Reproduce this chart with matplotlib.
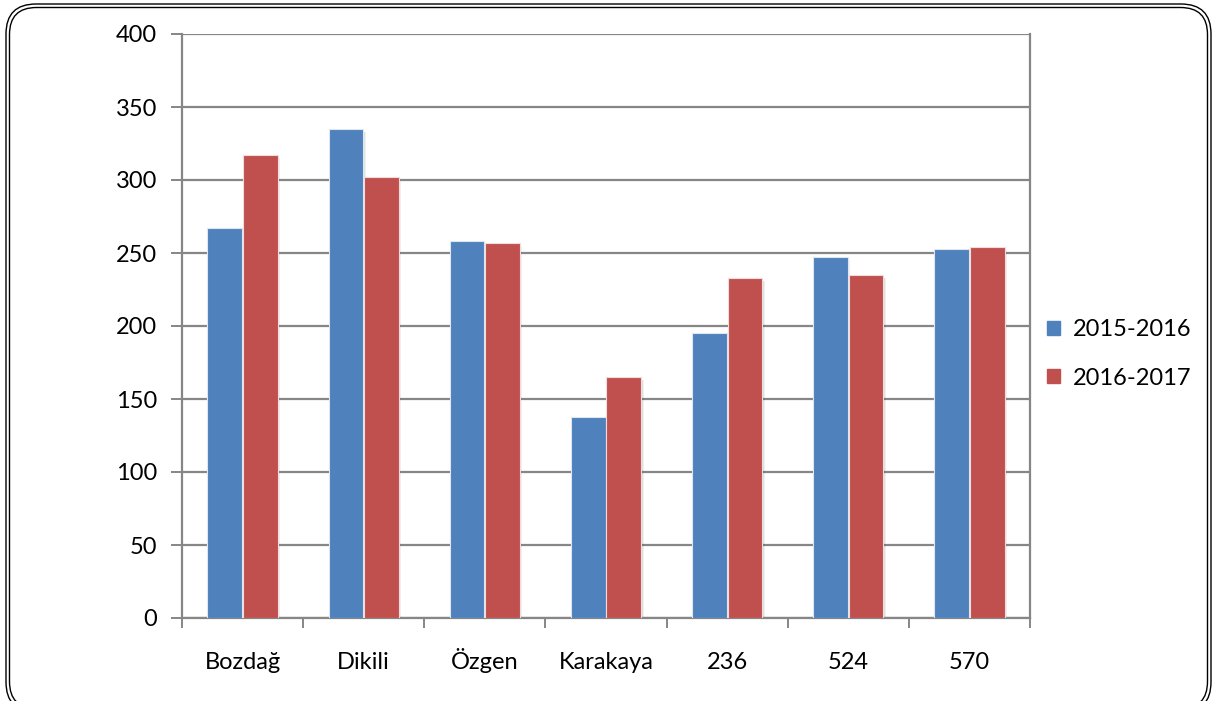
import matplotlib
matplotlib.use('Agg')
import matplotlib.pyplot as plt
import numpy as np
from matplotlib.patches import FancyBboxPatch, Patch

categories = ['Bozdağ', 'Dikili', 'Özgen', 'Karakaya', '236', '524', '570']
season_1 = [267, 335, 258, 138, 195, 247, 253]   # 2015-2016
season_2 = [317, 302, 257, 165, 233, 235, 254]   # 2016-2017
series_names = ['2015-2016', '2016-2017']

BLUE = '#4F81BD'
RED = '#C0504D'
GRID = '#868686'

plt.rcParams['font.family'] = ['Lato', 'DejaVu Sans']

W, H = 1214, 701
fig = plt.figure(figsize=(W / 100, H / 100), dpi=100)
fig.patch.set_facecolor('white')

# pixel-space overlay for the double rounded frame (y measured from the top)
frame = fig.add_axes([0, 0, 1, 1], zorder=-1)
frame.set_xlim(0, W)
frame.set_ylim(0, H)
frame.axis('off')
for (x0, y0, x1, y1, r) in [(6, 4, 1211, 712, 30), (9.5, 7.5, 1207.5, 708.5, 27)]:
    frame.add_patch(FancyBboxPatch((x0, H - y1), x1 - x0, y1 - y0,
                                   boxstyle=f'round,pad=0,rounding_size={r}',
                                   facecolor='none', edgecolor='black',
                                   linewidth=1.0, clip_on=False))

ax = fig.add_axes([182 / W, (H - 618) / H, (1030 - 182) / W, (618 - 34) / H])

x = np.arange(len(categories))
w = 0.286
off = w / 2 + 0.004

# soft shadow behind each bar
for dx in (0.012, 0.02):
    ax.bar(x - off + dx, season_1, w, bottom=-2, color='#000000', alpha=0.06, zorder=2)
    ax.bar(x + off + dx, season_2, w, bottom=-2, color='#000000', alpha=0.06, zorder=2)

ax.bar(x - off, season_1, w, color=BLUE, edgecolor='#dfe6f0', linewidth=0.8,
       zorder=3, label=series_names[0])
ax.bar(x + off, season_2, w, color=RED, edgecolor='#f0dcdc', linewidth=0.8,
       zorder=3, label=series_names[1])

ax.set_xlim(-0.5, len(categories) - 0.5)
ax.set_ylim(0, 400)
ax.set_yticks(np.arange(0, 401, 50))
ax.yaxis.grid(True, color=GRID, linewidth=1.6, zorder=1)
ax.set_axisbelow(True)

ax.set_xticks(x)
ax.set_xticklabels(categories, fontsize=17)
for lbl in ax.get_xticklabels():
    lbl.set_verticalalignment('baseline')
ax.tick_params(axis='x', length=0, pad=37)
ax.set_xticks(np.arange(-0.5, len(categories)), minor=True)
ax.tick_params(axis='x', which='minor', length=7, width=1.4, color=GRID)
ax.tick_params(axis='y', length=8, width=1.4, color=GRID, labelsize=17, pad=10)

for side in ['left', 'right', 'bottom']:
    ax.spines[side].set_color(GRID)
    ax.spines[side].set_linewidth(1.6)
ax.spines['top'].set_visible(False)

handles = [Patch(color=BLUE, label=series_names[0]),
           Patch(color=RED, label=series_names[1])]
fig.legend(handles=handles, loc='center left', bbox_to_anchor=(0.845, 0.495),
           frameon=False, fontsize=17, handlelength=0.55, handleheight=0.55,
           handletextpad=0.55, labelspacing=1.15)

fig.savefig('out.png', dpi=100, facecolor='white')
